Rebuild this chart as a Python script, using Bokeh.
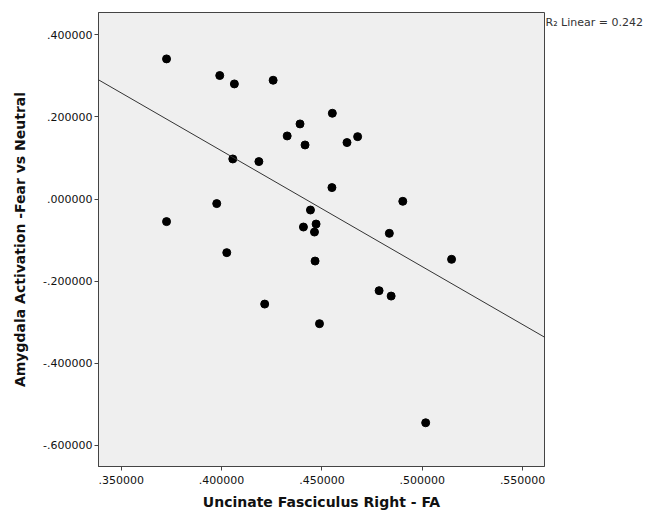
import numpy as np
from bokeh.plotting import figure
from bokeh.models import FixedTicker, Range1d, Slope, LinearAxis
from bokeh.embed import file_html
from bokeh.resources import INLINE

# Data
fa_right = [0.3726, 0.3991, 0.4064, 0.4257, 0.4552, 0.4391, 0.4327, 0.4416, 0.4625, 0.4678,
            0.4056, 0.4186, 0.4550, 0.3976, 0.3726, 0.4903, 0.4443, 0.4408, 0.4471, 0.4463,
            0.4836, 0.4026, 0.4466, 0.5146, 0.4785, 0.4845, 0.4215, 0.4488, 0.5017]
amygdala = [0.3415, 0.3010, 0.2805, 0.2895, 0.2090, 0.1830, 0.1537, 0.1317, 0.1376, 0.1520,
            0.0976, 0.0912, 0.0278, -0.0112, -0.0551, -0.0056, -0.0268, -0.0683, -0.0610, -0.0805,
            -0.0837, -0.1307, -0.1512, -0.1470, -0.2234, -0.2366, -0.2561, -0.3039, -0.5454]

x_ticks = [0.35, 0.40, 0.45, 0.50, 0.55]
x_tick_labels = [".350000", ".400000", ".450000", ".500000", ".550000"]
y_ticks = [0.4, 0.2, 0.0, -0.2, -0.4, -0.6]
y_tick_labels = [".400000", ".200000", ".000000", "-.200000", "-.400000", "-.600000"]

x_title = "Uncinate Fasciculus Right - FA"
y_title = "Amygdala Activation -Fear vs Neutral"
fit_label = "R\u2082 Linear = 0.242"
fit_label_y = 0.431

x_lo, x_hi = 0.3387, 0.5609
y_lo, y_hi = -0.652, 0.4546

p = figure(width=645, height=514, output_backend="svg", toolbar_location=None,
           x_range=Range1d(x_lo, x_hi), y_range=Range1d(y_lo, y_hi),
           min_border_left=98, min_border_right=99, min_border_top=12, min_border_bottom=48)
p.background_fill_color = "#efefef"
p.border_fill_color = "white"
p.outline_line_color = "#444444"
p.outline_line_width = 1
p.xgrid.visible = False
p.ygrid.visible = False

font = "DejaVu Sans"
for ax, ticks, labels in ((p.xaxis, x_ticks, x_tick_labels), (p.yaxis, y_ticks, y_tick_labels)):
    ax.ticker = FixedTicker(ticks=ticks)
    ax.major_label_overrides = {t: l for t, l in zip(ticks, labels)}
    ax.minor_tick_line_color = None
    ax.major_tick_in = 0
    ax.major_tick_out = 4
    ax.major_tick_line_color = "#444444"
    ax.axis_line_color = "#444444"
    ax.major_label_text_font = font
    ax.major_label_text_font_size = "11px"
    ax.major_label_text_color = "#111111"
    ax.axis_label_text_font = font
    ax.axis_label_text_font_style = "bold"
    ax.axis_label_text_font_size = "14px"
    ax.axis_label_text_color = "#111111"

p.xaxis.axis_label = x_title
p.yaxis.axis_label = y_title
p.xaxis.major_label_standoff = 5
p.yaxis.major_label_standoff = 2
p.xaxis.axis_label_standoff = 7
p.yaxis.axis_label_standoff = 12

# fit-line annotation as a right-side axis label
r_axis = LinearAxis(ticker=FixedTicker(ticks=[fit_label_y]),
                    major_label_overrides={fit_label_y: fit_label},
                    axis_line_color=None, major_tick_line_color=None, minor_tick_line_color=None,
                    major_tick_out=0, major_tick_in=0, major_label_standoff=1,
                    major_label_text_font=font, major_label_text_font_size="11px",
                    major_label_text_color="#333333")
p.add_layout(r_axis, "right")

xs = np.array(fa_right)
ys = np.array(amygdala)
slope, intercept = np.polyfit(xs, ys, 1)
p.add_layout(Slope(gradient=slope, y_intercept=intercept, line_color="#333333", line_width=1))

p.scatter(fa_right, amygdala, size=8, color="black")

open("out.html", "w").write(file_html(p, INLINE))
